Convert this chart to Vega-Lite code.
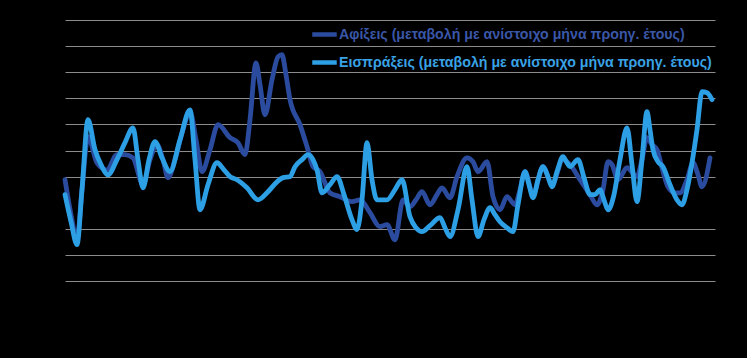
{
  "$schema": "https://vega.github.io/schema/vega-lite/v6.json",
  "width": 650,
  "height": 261,
  "autosize": {"type": "none"},
  "padding": {"left": 65, "top": 20, "right": 32, "bottom": 77},
  "background": "#000000",
  "config": {"view": {"stroke": null}},
  "data": {"values": [
    {"s":"Αφίξεις","t":0,"v":8.8},{"s":"Αφίξεις","t":6,"v":-4.6},{"s":"Αφίξεις","t":12,"v":-14.2},{"s":"Αφίξεις","t":17,"v":5.0},{"s":"Αφίξεις","t":23,"v":25.3},{"s":"Αφίξεις","t":32,"v":15.3},{"s":"Αφίξεις","t":42,"v":12.6},{"s":"Αφίξεις","t":52,"v":18.4},{"s":"Αφίξεις","t":60,"v":18.4},{"s":"Αφίξεις","t":68,"v":17.2},{"s":"Αφίξεις","t":78,"v":6.9},{"s":"Αφίξεις","t":85,"v":16.5},{"s":"Αφίξεις","t":92,"v":22.2},{"s":"Αφίξεις","t":98,"v":16.5},{"s":"Αφίξεις","t":103,"v":9.6},{"s":"Αφίξεις","t":110,"v":16.5},{"s":"Αφίξεις","t":118,"v":28.0},{"s":"Αφίξεις","t":125,"v":34.9},{"s":"Αφίξεις","t":131,"v":24.1},{"s":"Αφίξεις","t":137,"v":11.9},{"s":"Αφίξεις","t":145,"v":20.3},{"s":"Αφίξεις","t":153,"v":29.9},{"s":"Αφίξεις","t":165,"v":24.9},{"s":"Αφίξεις","t":173,"v":23.0},{"s":"Αφίξεις","t":180,"v":18.4},{"s":"Αφίξεις","t":185,"v":31.8},{"s":"Αφίξεις","t":191,"v":53.6},{"s":"Αφίξεις","t":195,"v":45.2},{"s":"Αφίξεις","t":200,"v":33.7},{"s":"Αφίξεις","t":207,"v":47.1},{"s":"Αφίξεις","t":213,"v":55.9},{"s":"Αφίξεις","t":217,"v":56.7},{"s":"Αφίξεις","t":221,"v":49.0},{"s":"Αφίξεις","t":225,"v":39.5},{"s":"Αφίξεις","t":235,"v":29.9},{"s":"Αφίξεις","t":242,"v":21.5},{"s":"Αφίξεις","t":248,"v":13.8},{"s":"Αφίξεις","t":255,"v":11.9},{"s":"Αφίξεις","t":265,"v":3.8},{"s":"Αφίξεις","t":275,"v":2.3},{"s":"Αφίξεις","t":287,"v":0.4},{"s":"Αφίξεις","t":295,"v":1.1},{"s":"Αφίξεις","t":305,"v":-3.8},{"s":"Αφίξεις","t":315,"v":-9.2},{"s":"Αφίξεις","t":322,"v":-8.4},{"s":"Αφίξεις","t":330,"v":-14.2},{"s":"Αφίξεις","t":338,"v":1.1},{"s":"Αφίξεις","t":345,"v":-1.5},{"s":"Αφίξεις","t":351,"v":1.1},{"s":"Αφίξεις","t":357,"v":4.2},{"s":"Αφίξεις","t":365,"v":-0.8},{"s":"Αφίξεις","t":372,"v":3.1},{"s":"Αφίξεις","t":377,"v":5.7},{"s":"Αφίξεις","t":385,"v":1.9},{"s":"Αφίξεις","t":392,"v":10.0},{"s":"Αφίξεις","t":402,"v":17.2},{"s":"Αφίξεις","t":408,"v":15.7},{"s":"Αφίξεις","t":413,"v":11.9},{"s":"Αφίξεις","t":422,"v":15.7},{"s":"Αφίξεις","t":428,"v":2.3},{"s":"Αφίξεις","t":435,"v":-2.7},{"s":"Αφίξεις","t":442,"v":2.3},{"s":"Αφίξεις","t":450,"v":-0.8},{"s":"Αφίξεις","t":455,"v":5.0},{"s":"Αφίξεις","t":460,"v":11.9},{"s":"Αφίξεις","t":468,"v":3.1},{"s":"Αφίξεις","t":478,"v":13.8},{"s":"Αφίξεις","t":487,"v":6.9},{"s":"Αφίξεις","t":498,"v":16.5},{"s":"Αφίξεις","t":505,"v":14.6},{"s":"Αφίξεις","t":515,"v":8.8},{"s":"Αφίξεις","t":525,"v":3.1},{"s":"Αφίξεις","t":532,"v":-0.8},{"s":"Αφίξεις","t":538,"v":5.0},{"s":"Αφίξεις","t":543,"v":15.7},{"s":"Αφίξεις","t":547,"v":14.6},{"s":"Αφίξεις","t":553,"v":8.8},{"s":"Αφίξεις","t":562,"v":13.4},{"s":"Αφίξεις","t":572,"v":10.0},{"s":"Αφίξεις","t":577,"v":16.5},{"s":"Αφίξεις","t":582,"v":24.9},{"s":"Αφίξεις","t":587,"v":22.2},{"s":"Αφίξεις","t":592,"v":20.3},{"s":"Αφίξεις","t":597,"v":13.4},{"s":"Αφίξεις","t":603,"v":6.1},{"s":"Αφίξεις","t":610,"v":3.8},{"s":"Αφίξεις","t":615,"v":3.8},{"s":"Αφίξεις","t":622,"v":8.8},{"s":"Αφίξεις","t":628,"v":15.3},{"s":"Αφίξεις","t":633,"v":10.7},{"s":"Αφίξεις","t":637,"v":6.1},{"s":"Αφίξεις","t":645,"v":17.2},
    {"s":"Εισπράξεις","t":0,"v":3.1},{"s":"Εισπράξεις","t":6,"v":-7.3},{"s":"Εισπράξεις","t":12,"v":-16.1},{"s":"Εισπράξεις","t":17,"v":5.0},{"s":"Εισπράξεις","t":23,"v":31.8},{"s":"Εισπράξεις","t":30,"v":20.3},{"s":"Εισπράξεις","t":36,"v":14.6},{"s":"Εισπράξεις","t":43,"v":10.7},{"s":"Εισπράξεις","t":52,"v":16.5},{"s":"Εισπράξεις","t":60,"v":23.0},{"s":"Εισπράξεις","t":68,"v":28.7},{"s":"Εισπράξεις","t":73,"v":16.5},{"s":"Εισπράξεις","t":78,"v":5.7},{"s":"Εισπράξεις","t":84,"v":16.5},{"s":"Εισπράξεις","t":90,"v":23.4},{"s":"Εισπράξεις","t":97,"v":17.2},{"s":"Εισπράξεις","t":105,"v":11.9},{"s":"Εισπράξεις","t":115,"v":24.1},{"s":"Εισπράξεις","t":125,"v":35.6},{"s":"Εισπράξεις","t":130,"v":16.5},{"s":"Εισπράξεις","t":135,"v":-2.7},{"s":"Εισπράξεις","t":143,"v":6.9},{"s":"Εισπράξεις","t":152,"v":15.3},{"s":"Εισπράξεις","t":159,"v":12.6},{"s":"Εισπράξεις","t":165,"v":10.0},{"s":"Εισπράξεις","t":172,"v":8.8},{"s":"Εισπράξεις","t":182,"v":5.7},{"s":"Εισπράξεις","t":193,"v":1.1},{"s":"Εισπράξεις","t":202,"v":3.8},{"s":"Εισπράξεις","t":212,"v":8.0},{"s":"Εισπράξεις","t":218,"v":9.6},{"s":"Εισπράξεις","t":225,"v":10.0},{"s":"Εισπράξεις","t":230,"v":13.8},{"s":"Εισπράξεις","t":237,"v":16.5},{"s":"Εισπράξεις","t":243,"v":18.4},{"s":"Εισπράξεις","t":248,"v":16.5},{"s":"Εισπράξεις","t":252,"v":12.6},{"s":"Εισπράξεις","t":257,"v":3.8},{"s":"Εισπράξεις","t":265,"v":6.9},{"s":"Εισπράξεις","t":272,"v":10.0},{"s":"Εισπράξεις","t":279,"v":3.1},{"s":"Εισπράξεις","t":287,"v":-6.5},{"s":"Εισπράξεις","t":292,"v":-10.3},{"s":"Εισπράξεις","t":297,"v":1.1},{"s":"Εισπράξεις","t":302,"v":23.0},{"s":"Εισπράξεις","t":307,"v":8.8},{"s":"Εισπράξεις","t":312,"v":1.1},{"s":"Εισπράξεις","t":322,"v":1.1},{"s":"Εισπράξεις","t":330,"v":5.0},{"s":"Εισπράξεις","t":337,"v":8.8},{"s":"Εισπράξεις","t":345,"v":-5.4},{"s":"Εισπράξεις","t":351,"v":-9.6},{"s":"Εισπράξεις","t":357,"v":-11.1},{"s":"Εισπράξεις","t":365,"v":-8.8},{"s":"Εισπράξεις","t":375,"v":-5.7},{"s":"Εισπράξεις","t":380,"v":-9.6},{"s":"Εισπράξεις","t":385,"v":-13.0},{"s":"Εισπράξεις","t":393,"v":-2.7},{"s":"Εισπράξεις","t":402,"v":13.8},{"s":"Εισπράξεις","t":407,"v":1.1},{"s":"Εισπράξεις","t":413,"v":-13.0},{"s":"Εισπράξεις","t":419,"v":-6.5},{"s":"Εισπράξεις","t":425,"v":-1.9},{"s":"Εισπράξεις","t":430,"v":-4.6},{"s":"Εισπράξεις","t":435,"v":-7.3},{"s":"Εισπράξεις","t":442,"v":-9.6},{"s":"Εισπράξεις","t":448,"v":-11.1},{"s":"Εισπράξεις","t":453,"v":-0.8},{"s":"Εισπράξεις","t":460,"v":11.9},{"s":"Εισπράξεις","t":464,"v":6.9},{"s":"Εισπράξεις","t":468,"v":1.9},{"s":"Εισπράξεις","t":473,"v":8.8},{"s":"Εισπράξεις","t":478,"v":13.8},{"s":"Εισπράξεις","t":483,"v":10.0},{"s":"Εισπράξεις","t":487,"v":6.1},{"s":"Εισπράξεις","t":492,"v":11.9},{"s":"Εισπράξεις","t":498,"v":17.6},{"s":"Εισπράξεις","t":502,"v":15.3},{"s":"Εισπράξεις","t":505,"v":13.8},{"s":"Εισπράξεις","t":513,"v":16.5},{"s":"Εισπράξεις","t":519,"v":9.6},{"s":"Εισπράξεις","t":525,"v":3.1},{"s":"Εισπράξεις","t":530,"v":3.1},{"s":"Εισπράξεις","t":535,"v":5.0},{"s":"Εισπράξεις","t":539,"v":1.1},{"s":"Εισπράξεις","t":543,"v":-2.7},{"s":"Εισπράξεις","t":549,"v":3.1},{"s":"Εισπράξεις","t":555,"v":16.5},{"s":"Εισπράξεις","t":562,"v":28.7},{"s":"Εισπράξεις","t":567,"v":14.6},{"s":"Εισπράξεις","t":572,"v":0.4},{"s":"Εισπράξεις","t":577,"v":16.5},{"s":"Εισπράξεις","t":582,"v":34.9},{"s":"Εισπράξεις","t":585,"v":28.0},{"s":"Εισπράξεις","t":588,"v":20.3},{"s":"Εισπράξεις","t":593,"v":15.7},{"s":"Εισπράξεις","t":598,"v":13.8},{"s":"Εισπράξεις","t":605,"v":6.9},{"s":"Εισπράξεις","t":612,"v":1.1},{"s":"Εισπράξεις","t":617,"v":-0.8},{"s":"Εισπράξεις","t":622,"v":5.0},{"s":"Εισπράξεις","t":627,"v":15.3},{"s":"Εισπράξεις","t":632,"v":28.0},{"s":"Εισπράξεις","t":637,"v":42.5},{"s":"Εισπράξεις","t":642,"v":42.1},{"s":"Εισπράξεις","t":647,"v":39.5}
  ]},
  "encoding": {
    "x": {"field": "t", "type": "quantitative", "scale": {"domain": [0, 650], "nice": false, "zero": false}, "axis": null},
    "y": {"field": "v", "type": "quantitative", "scale": {"domain": [-30, 70], "nice": false},
      "axis": {"values": [-30, -20, -10, 0, 10, 20, 30, 40, 50, 60, 70], "labels": false, "ticks": false, "domain": false, "title": null, "grid": true,
        "gridColor": {"condition": {"test": "datum.value === 0", "value": "#000000"}, "value": "#8c8c8c"}, "gridWidth": 1}},
    "color": {"field": "s", "type": "nominal",
      "scale": {"domain": ["Αφίξεις", "Εισπράξεις"], "range": ["#2b4c9e", "#2d9fe4"]},
      "legend": {"orient": "none", "legendX": 245, "legendY": 0, "title": null, "direction": "vertical",
        "symbolType": "stroke", "symbolSize": 600, "symbolStrokeWidth": 4.5,
        "labelFont": "Liberation Sans", "labelFontSize": 14.2, "labelFontWeight": "bold",
        "labelColor": {"expr": "datum.value === 'Αφίξεις' ? '#3a57a8' : '#3aa3e6'"},
        "labelExpr": "datum.label + ' (μεταβολή με ανίστοιχο μήνα προηγ. έτους)'",
        "labelLimit": 0, "rowPadding": 4, "labelOffset": 0}}
  },
  "layer": [
    {"transform": [{"filter": "datum.s === 'Αφίξεις'"}],
     "mark": {"type": "line", "interpolate": "monotone", "strokeWidth": 4.8, "strokeCap": "round", "strokeJoin": "round"}},
    {"transform": [{"filter": "datum.s === 'Εισπράξεις'"}],
     "mark": {"type": "line", "interpolate": "monotone", "strokeWidth": 4.8, "strokeCap": "round", "strokeJoin": "round"}}
  ]
}
